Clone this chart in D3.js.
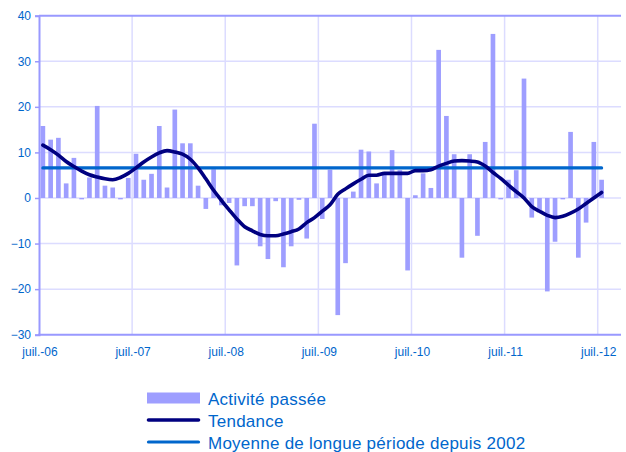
<!DOCTYPE html>
<html>
<head>
<meta charset="utf-8">
<script src="https://cdn.jsdelivr.net/npm/d3@7"></script>
<style>
  html, body { margin: 0; padding: 0; background: #ffffff; }
  svg { display: block; font-family: "Liberation Sans", Arial, sans-serif; }
</style>
</head>
<body>
<svg id="chart" width="626" height="452"></svg>
<script>
// Monthly survey balance: past activity, its trend, and the long-run average
const monthNames = ["janv.", "févr.", "mars", "avr.", "mai", "juin", "juil.", "août", "sept.", "oct.", "nov.", "déc."];

// Axis runs from July 2006 to September 2012 (75 monthly slots)
const startYear = 2006, startMonth = 6, slotCount = 75;
const months = d3.range(slotCount).map(i => {
  const m = (startMonth + i) % 12;
  const y = startYear + Math.floor((startMonth + i) / 12);
  return monthNames[m] + "-" + String(y % 100).padStart(2, "0");
});

// Activité passée, July 2006 – July 2012
const activite = [
  15.8, 12.8, 13.2, 3.2, 8.8, -0.3, 4.5, 20.2, 2.7, 2.3, -0.3, 4.4,
  9.7, 4.0, 5.3, 15.8, 2.3, 19.4, 12.0, 12.0, 2.7, -2.4, 6.3, -1.6,
  -1.1, -14.8, -1.8, -1.8, -10.6, -13.4, -0.7, -15.2, -10.6, -0.4, -8.9, 16.3,
  -4.6, 6.2, -25.7, -14.3, 1.4, 10.6, 10.2, 3.2, 5.4, 10.5, 6.1, -15.9,
  0.6, 5.4, 2.2, 32.5, 18.0, 9.6, -13.1, 9.6, -8.3, 12.3, 36.0, -0.3,
  4.0, 6.1, 26.2, -4.3, -3.0, -20.5, -9.6, -0.3, 14.5, -13.1, -5.4, 12.3,
  4.0
];

// Tendance, same months
const tendance = [
  11.6, 10.6, 9.4, 8.0, 6.9, 5.9, 5.1, 4.6, 4.2, 4.0, 4.5, 5.4,
  6.6, 7.9, 9.0, 9.9, 10.4, 10.1, 9.6, 8.5, 6.6, 4.2, 1.7, -0.5,
  -2.6, -4.6, -6.3, -7.2, -8.0, -8.3, -8.3, -7.9, -7.4, -6.8, -5.4, -4.3,
  -2.9, -1.5, 0.8, 2.0, 3.1, 4.1, 5.0, 5.0, 5.4, 5.4, 5.4, 5.4,
  6.0, 6.0, 6.2, 7.0, 7.6, 8.1, 8.2, 8.1, 7.9, 7.0, 5.6, 4.3,
  2.8, 1.4, 0.0, -1.9, -2.9, -3.8, -4.3, -4.0, -3.3, -2.4, -1.2, 0.0,
  1.2
];

// Moyenne de longue période depuis 2002
const moyenne = 6.6;

const yTicks = [-30, -20, -10, 0, 10, 20, 30, 40];
const xTickMonths = ["juil.-06", "juil.-07", "juil.-08", "juil.-09", "juil.-10", "juil.-11", "juil.-12"];

const legendLabels = ["Activité passée", "Tendance", "Moyenne de longue période depuis 2002"];

const colors = {
  bar: "#9e9eff",
  trend: "#000080",
  mean: "#0066cc",
  grid: "#dcdcff",
  axis: "#9999ff",
  text: "#0066cc"
};

const svg = d3.select("#chart");

const plot = { left: 39, right: 621, top: 15.7, bottom: 334.7 };

const x = d3.scaleBand()
  .domain(months)
  .range([plot.left, plot.right])
  .paddingInner(0.4)
  .paddingOuter(0.2);

const step = x.step();
const slotCenter = m => plot.left + (months.indexOf(m) + 0.5) * step;
const slotLeft = m => plot.left + months.indexOf(m) * step;

const y = d3.scaleLinear().domain([-30, 40]).range([plot.bottom, plot.top]);

const data = activite.map((v, i) => ({ month: months[i], value: v, trend: tendance[i] }));

// Horizontal gridlines
svg.append("g")
  .selectAll("line")
  .data(yTicks.filter(t => t > -30 && t < 40))
  .join("line")
  .attr("x1", plot.left).attr("x2", plot.right)
  .attr("y1", d => y(d)).attr("y2", d => y(d))
  .attr("stroke", colors.grid)
  .attr("stroke-width", 1.5);

// Vertical gridlines at each July
svg.append("g")
  .selectAll("line")
  .data(xTickMonths.slice(1))
  .join("line")
  .attr("x1", d => slotLeft(d)).attr("x2", d => slotLeft(d))
  .attr("y1", plot.top).attr("y2", plot.bottom)
  .attr("stroke", colors.grid)
  .attr("stroke-width", 1.5);

// Bars
svg.append("g")
  .selectAll("rect")
  .data(data)
  .join("rect")
  .attr("x", d => x(d.month))
  .attr("width", x.bandwidth())
  .attr("y", d => y(Math.max(0, d.value)))
  .attr("height", d => Math.abs(y(d.value) - y(0)))
  .attr("fill", colors.bar);

// Long-run average
svg.append("line")
  .attr("x1", slotCenter(months[0]))
  .attr("x2", slotCenter(months[activite.length - 1]))
  .attr("y1", y(moyenne)).attr("y2", y(moyenne))
  .attr("stroke", colors.mean)
  .attr("stroke-width", 3.2)
  .attr("stroke-linecap", "round");

// Trend
const trendLine = d3.line()
  .x(d => slotCenter(d.month))
  .y(d => y(d.trend))
  .curve(d3.curveMonotoneX);

svg.append("path")
  .datum(data)
  .attr("d", trendLine)
  .attr("fill", "none")
  .attr("stroke", colors.trend)
  .attr("stroke-width", 3.6)
  .attr("stroke-linecap", "round")
  .attr("stroke-linejoin", "round");

// Frame: top border, left and bottom axes
svg.append("line")
  .attr("x1", plot.left).attr("x2", plot.right)
  .attr("y1", plot.top).attr("y2", plot.top)
  .attr("stroke", colors.axis).attr("stroke-width", 2);

const yAxis = d3.axisLeft(y).tickValues(yTicks).tickSize(4).tickPadding(4).tickFormat(d3.format("d"));
const yG = svg.append("g").attr("transform", `translate(${plot.left},0)`).call(yAxis);
yG.select(".domain").attr("stroke", colors.axis).attr("stroke-width", 2);
yG.selectAll(".tick line").attr("stroke", colors.axis).attr("stroke-width", 1.5);
yG.selectAll(".tick text")
  .attr("fill", colors.text)
  .style("font-size", "12px")
  .style("font-family", "'Liberation Sans', Arial, sans-serif");

svg.append("line")
  .attr("x1", plot.left - 1).attr("x2", plot.right)
  .attr("y1", plot.bottom).attr("y2", plot.bottom)
  .attr("stroke", colors.axis).attr("stroke-width", 2);

// Year labels on the July ticks
svg.append("g")
  .selectAll("text")
  .data(xTickMonths)
  .join("text")
  .attr("x", d => slotLeft(d) + 1)
  .attr("y", plot.bottom + 21)
  .attr("text-anchor", "middle")
  .attr("fill", colors.text)
  .style("font-size", "12px")
  .text(d => d);

// Legend
const legend = svg.append("g").attr("transform", "translate(147,398)");
const rowGap = 22;
legend.append("rect")
  .attr("x", 0).attr("y", -5.5).attr("width", 53).attr("height", 11)
  .attr("fill", colors.bar);
legend.append("line")
  .attr("x1", 1.5).attr("x2", 51.5).attr("y1", rowGap).attr("y2", rowGap)
  .attr("stroke", colors.trend).attr("stroke-width", 3.6).attr("stroke-linecap", "round");
legend.append("line")
  .attr("x1", 1.5).attr("x2", 51.5).attr("y1", rowGap * 2).attr("y2", rowGap * 2)
  .attr("stroke", colors.mean).attr("stroke-width", 3.2).attr("stroke-linecap", "round");
legend.selectAll("text")
  .data(legendLabels)
  .join("text")
  .attr("x", 61)
  .attr("y", (d, i) => i * rowGap + 6.5)
  .attr("fill", colors.text)
  .style("font-size", "17px")
  .style("letter-spacing", "0.25px")
  .text(d => d);
</script>
</body>
</html>
